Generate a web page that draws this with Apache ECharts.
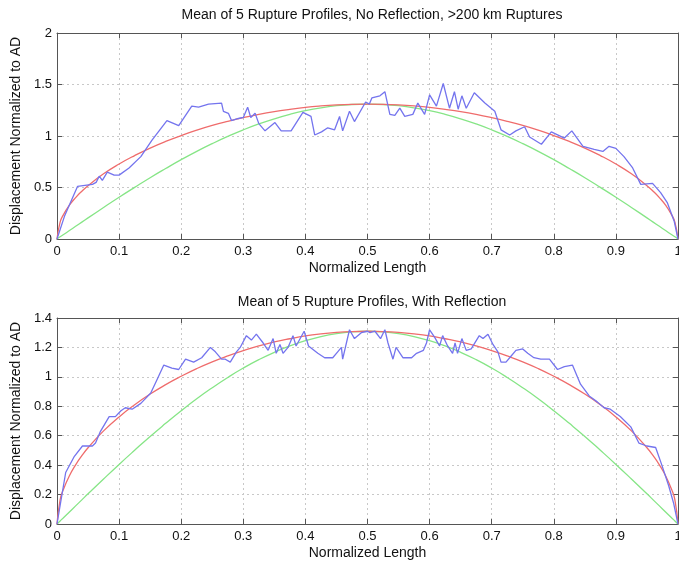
<!DOCTYPE html>
<html>
<head>
<meta charset="utf-8">
<script src="https://cdn.jsdelivr.net/npm/echarts@6/dist/echarts.min.js"></script>
<style>html,body{margin:0;padding:0;background:#fff;}#c{width:679px;height:561px;}</style>
</head>
<body>
<div id="c"></div>
<script>
// ---- data ----
var titles = ['Mean of 5 Rupture Profiles, No Reflection, >200 km Ruptures', 'Mean of 5 Rupture Profiles, With Reflection'];
var xLabel = 'Normalized Length';
var yLabel = 'Displacement Normalized to AD';

var curveX = [0,0.005,0.01,0.02,0.03,0.04,0.05,0.075,0.1,0.125,0.15,0.175,0.2,0.225,0.25,0.275,0.3,0.325,0.35,0.375,0.4,0.425,0.45,0.475,0.5,0.525,0.55,0.575,0.6,0.625,0.65,0.675,0.7,0.725,0.75,0.775,0.8,0.825,0.85,0.875,0.9,0.925,0.95,0.96,0.97,0.98,0.99,0.995,1];
var redY = [0,0.164,0.232,0.328,0.402,0.464,0.518,0.633,0.728,0.810,0.883,0.947,1.004,1.056,1.102,1.142,1.178,1.210,1.237,1.259,1.278,1.292,1.302,1.308,1.310,1.308,1.302,1.292,1.278,1.259,1.237,1.210,1.178,1.142,1.102,1.056,1.004,0.947,0.883,0.810,0.728,0.633,0.518,0.464,0.402,0.328,0.232,0.164,0];
var greenY = [0,0.021,0.041,0.082,0.123,0.164,0.205,0.306,0.405,0.501,0.595,0.684,0.770,0.851,0.926,0.996,1.060,1.117,1.167,1.210,1.246,1.274,1.294,1.306,1.310,1.306,1.294,1.274,1.246,1.210,1.167,1.117,1.060,0.996,0.926,0.851,0.770,0.684,0.595,0.501,0.405,0.306,0.205,0.164,0.123,0.082,0.041,0.021,0];

var topBlueX = [0,0.012,0.033,0.045,0.057,0.063,0.068,0.073,0.081,0.092,0.1,0.116,0.135,0.153,0.177,0.196,0.217,0.228,0.244,0.265,0.268,0.276,0.281,0.292,0.3,0.307,0.312,0.319,0.325,0.335,0.351,0.361,0.377,0.396,0.409,0.415,0.426,0.436,0.447,0.455,0.46,0.471,0.479,0.497,0.503,0.507,0.52,0.528,0.536,0.544,0.552,0.56,0.573,0.581,0.592,0.6,0.611,0.622,0.632,0.64,0.646,0.652,0.659,0.672,0.689,0.705,0.715,0.729,0.739,0.753,0.761,0.78,0.796,0.817,0.829,0.847,0.865,0.879,0.889,0.9,0.913,0.927,0.94,0.959,0.972,0.983,0.994,1];
var topBlueY = [0,0.22,0.51,0.52,0.53,0.55,0.61,0.57,0.65,0.62,0.62,0.69,0.80,0.96,1.15,1.10,1.29,1.28,1.31,1.32,1.24,1.22,1.15,1.17,1.18,1.28,1.18,1.22,1.12,1.05,1.13,1.05,1.05,1.23,1.19,1.01,1.04,1.08,1.06,1.19,1.05,1.24,1.14,1.33,1.31,1.37,1.39,1.43,1.21,1.20,1.27,1.19,1.21,1.32,1.21,1.40,1.29,1.51,1.27,1.43,1.26,1.39,1.27,1.42,1.32,1.24,1.06,1.01,1.05,1.09,0.99,0.92,1.04,0.98,1.05,0.90,0.87,0.85,0.90,0.88,0.80,0.69,0.53,0.54,0.45,0.35,0.17,0];

var botBlueX = [0,0.014,0.028,0.041,0.057,0.062,0.07,0.084,0.094,0.103,0.11,0.121,0.135,0.151,0.161,0.172,0.185,0.196,0.207,0.22,0.233,0.247,0.255,0.265,0.271,0.279,0.289,0.295,0.305,0.313,0.321,0.332,0.34,0.348,0.353,0.359,0.364,0.372,0.38,0.385,0.398,0.405,0.42,0.431,0.444,0.452,0.458,0.46,0.471,0.479,0.49,0.5,0.504,0.512,0.521,0.528,0.533,0.541,0.546,0.557,0.571,0.579,0.59,0.595,0.6,0.608,0.616,0.621,0.629,0.637,0.641,0.645,0.652,0.659,0.667,0.68,0.686,0.694,0.702,0.71,0.715,0.723,0.731,0.739,0.75,0.758,0.768,0.779,0.793,0.806,0.817,0.83,0.843,0.857,0.87,0.881,0.891,0.907,0.924,0.937,0.95,0.964,0.974,0.985,0.993,1];
var botBlueY = [0,0.35,0.46,0.53,0.53,0.55,0.63,0.73,0.73,0.77,0.79,0.78,0.82,0.89,0.98,1.08,1.06,1.05,1.12,1.10,1.13,1.20,1.17,1.12,1.12,1.10,1.17,1.20,1.28,1.25,1.29,1.23,1.18,1.26,1.16,1.22,1.16,1.20,1.28,1.21,1.31,1.21,1.16,1.13,1.13,1.17,1.20,1.12,1.32,1.26,1.30,1.31,1.30,1.31,1.26,1.32,1.23,1.12,1.20,1.13,1.13,1.16,1.18,1.23,1.32,1.27,1.21,1.28,1.21,1.16,1.23,1.16,1.26,1.18,1.19,1.28,1.26,1.29,1.22,1.17,1.10,1.10,1.14,1.18,1.19,1.16,1.13,1.12,1.12,1.05,1.07,1.08,0.95,0.87,0.83,0.79,0.78,0.73,0.66,0.55,0.53,0.52,0.40,0.26,0.14,0];

var xTicks = {min: 0, max: 1, interval: 0.1};
var yTicksTop = {min: 0, max: 2, interval: 0.5};
var yTicksBot = {min: 0, max: 1.4, interval: 0.2};

// ---- build chart ----
function zip(xs, ys) { return xs.map(function (x, i) { return [x, ys[i]]; }); }
var FONT = 'Liberation Sans, Arial, Helvetica, sans-serif';
var AX = '#555';
var GRIDC = '#c8c8c8';
var grids = [
  {left: 57, right: 1, top: 33, bottom: 322, outerBoundsMode: 'none', containLabel: false},
  {left: 57, right: 1, top: 318, bottom: 37, outerBoundsMode: 'none', containLabel: false}
];
var xAxes = [], yAxes = [];
function fmt(v) { return String(Math.round(v * 10) / 10); }
[0, 1].forEach(function (g) {
  var yt = g === 0 ? yTicksTop : yTicksBot;
  xAxes.push({type: 'value', gridIndex: g, position: 'bottom', min: xTicks.min, max: xTicks.max, interval: xTicks.interval,
    name: xLabel, nameLocation: 'middle', nameGap: 22, nameTextStyle: {fontFamily: FONT, fontSize: 14, color: '#111'},
    axisLine: {onZero: false, lineStyle: {color: AX, width: 1}},
    axisTick: {inside: true, length: 5, lineStyle: {color: AX}},
    axisLabel: {fontFamily: FONT, fontSize: 13, color: '#111', margin: 6, formatter: fmt, hideOverlap: false},
    splitLine: {show: true, lineStyle: {color: GRIDC, type: [2, 3], width: 1}}});
  xAxes.push({type: 'value', gridIndex: g, position: 'top', min: xTicks.min, max: xTicks.max, interval: xTicks.interval,
    axisLine: {onZero: false, lineStyle: {color: AX, width: 1}},
    axisTick: {inside: true, length: 5, lineStyle: {color: AX}},
    axisLabel: {show: false}, splitLine: {show: false}});
  yAxes.push({type: 'value', gridIndex: g, position: 'left', min: yt.min, max: yt.max, interval: yt.interval,
    name: yLabel, nameLocation: 'middle', nameGap: 30, nameRotate: 90, nameTextStyle: {fontFamily: FONT, fontSize: 14, color: '#111'},
    axisLine: {show: true, onZero: false, lineStyle: {color: AX, width: 1}},
    axisTick: {show: true, inside: true, length: 5, lineStyle: {color: AX}},
    axisLabel: {fontFamily: FONT, fontSize: 13, color: '#111', margin: 5, formatter: fmt},
    splitLine: {show: true, lineStyle: {color: GRIDC, type: [2, 3], width: 1}}});
  yAxes.push({type: 'value', gridIndex: g, position: 'right', min: yt.min, max: yt.max, interval: yt.interval,
    axisLine: {show: true, onZero: false, lineStyle: {color: AX, width: 1}},
    axisTick: {show: true, inside: true, length: 5, lineStyle: {color: AX}},
    axisLabel: {show: false}, splitLine: {show: false}});
});
function line(data, color, g, smooth, z) {
  return {type: 'line', data: data, xAxisIndex: g * 2, yAxisIndex: g * 2, showSymbol: false, symbol: 'none',
    smooth: smooth, z: z, lineStyle: {color: color, width: 1.3}, animation: false};
}
var BLUE = '#7474ee', RED = '#ef6c6c', GREEN = '#86e586';
var series = [];
[0, 1].forEach(function (g) {
  series.push(line(zip(curveX, greenY), GREEN, g, true, 2));
  series.push(line(zip(curveX, redY), RED, g, true, 3));
  series.push(line(zip(g === 0 ? topBlueX : botBlueX, g === 0 ? topBlueY : botBlueY), BLUE, g, false, 4));
});
var chart = echarts.init(document.getElementById('c'), null, {renderer: 'canvas'});
chart.setOption({
  animation: false,
  backgroundColor: '#fff',
  title: [
    {text: titles[0], left: 367, top: 3, textAlign: 'center', textStyle: {fontFamily: FONT, fontSize: 14, fontWeight: 'normal', color: '#111'}},
    {text: titles[1], left: 367, top: 290, textAlign: 'center', textStyle: {fontFamily: FONT, fontSize: 14, fontWeight: 'normal', color: '#111'}}
  ],
  grid: grids,
  xAxis: xAxes,
  yAxis: yAxes,
  series: series
});
</script>
</body>
</html>
